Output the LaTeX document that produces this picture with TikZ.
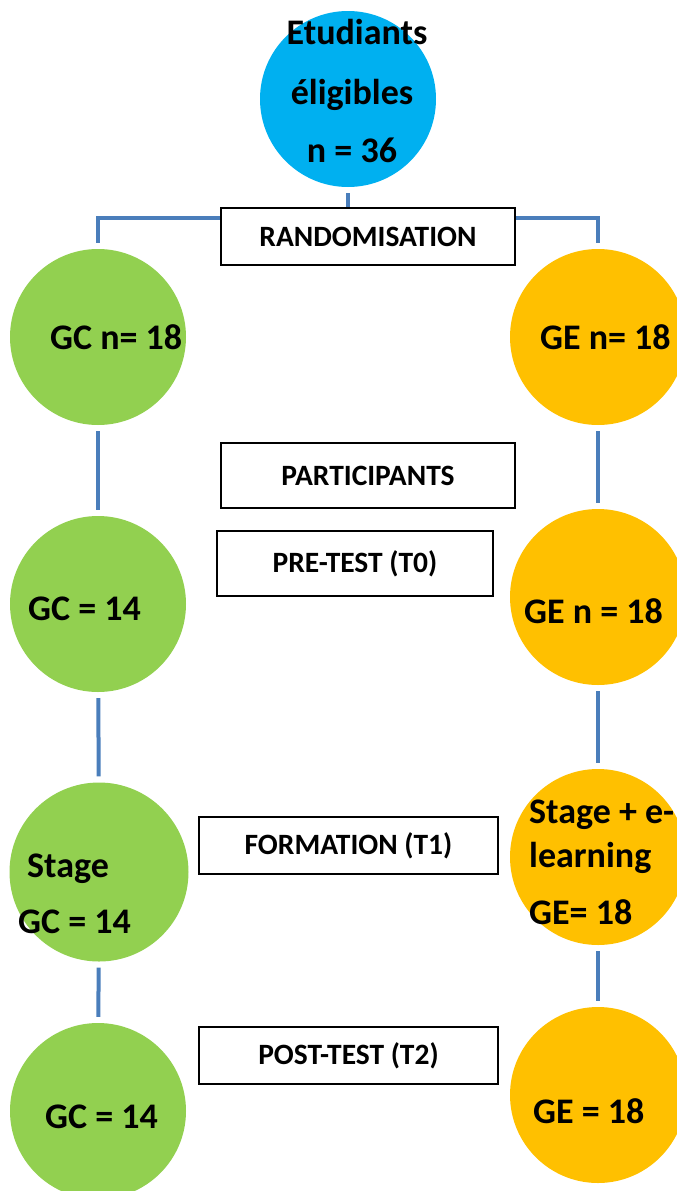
\documentclass[tikz,border=0pt]{standalone}
\usepackage{fontspec}
\setmainfont{Carlito}
\usetikzlibrary{positioning,backgrounds}
\definecolor{etblue}{HTML}{00B0F0}
\definecolor{etgreen}{HTML}{92D050}
\definecolor{etorange}{HTML}{FFC000}
\definecolor{etline}{HTML}{4A7EBB}
\tikzset{
  grp/.style={circle, minimum size=176pt, inner sep=0pt},
  gc/.style={grp, fill=etgreen},
  ge/.style={grp, fill=etorange},
  stp/.style={draw=black, line width=1.8pt, fill=white, minimum height=57pt, inner sep=0pt, font=\fontsize{29.5}{33}\selectfont\bfseries},
  lbl/.style={anchor=base west, inner sep=0pt, font=\fontsize{36}{40}\selectfont\bfseries},
  lblc/.style={lbl, anchor=base},
  conn/.style={draw=etline, line width=4pt, shorten <=6pt, shorten >=6pt},
}
\begin{document}
\begin{tikzpicture}[x=1pt, y=-1pt]
  \useasboundingbox (0,0) rectangle (677,1191);
  % groups
  \node[grp, fill=etblue] (etud) at (348,99) {};
  \node[gc] (gc1) at (98,337) {};
  \node[ge] (ge1) at (598,337) {};
  \node[gc] (gc2) at (98,604) {};
  \node[ge] (ge2) at (598,597) {};
  \node[gc, minimum size=179pt] (gc3) at (99,872) {};
  \node[ge] (ge3) at (598,857) {};
  \node[gc] (gc4) at (98,1111) {};
  \node[ge] (ge4) at (598,1095) {};
  % steps
  \node[stp, minimum width=294pt] (rando) at (368,236.5) {RANDOMISATION};
  \node[stp, minimum width=294pt, minimum height=65pt] (part) at (368,475.5) {PARTICIPANTS};
  \node[stp, minimum width=276pt, minimum height=65pt] (pre) at (355,563.5) {PRE-TEST (T0)};
  \node[stp, minimum width=299pt] (form) at (348.5,845.5) {FORMATION (T1)};
  \node[stp, minimum width=299pt] (post) at (348.5,1055.5) {POST-TEST (T2)};
  % texts
  \node[lblc] (etud-a) at (357,44) {Etudiants};
  \node[lblc] (etud-b) at (352,104) {éligibles};
  \node[lblc] (etud-c) at (352,162) {n = 36};
  \node[lbl] (gc1-t) at (50,349) {GC n= 18};
  \node[lbl] (ge1-t) at (540,349) {GE n= 18};
  \node[lbl] (gc2-t) at (28,620) {GC = 14};
  \node[lbl] (ge2-t) at (524,623) {GE n = 18};
  \node[lbl] (gc3-a) at (27,877) {Stage};
  \node[lbl] (gc3-b) at (18,933) {GC = 14};
  \node[lbl] (ge3-a) at (529,823) {Stage + e-};
  \node[lbl] (ge3-b) at (529,867) {learning};
  \node[lbl] (ge3-c) at (529,924) {GE= 18};
  \node[lbl] (gc4-t) at (45,1128) {GC = 14};
  \node[lbl] (ge4-t) at (533,1123) {GE = 18};
  % links
  \begin{scope}[on background layer]
    \coordinate (split) at (348,218);
    \draw[conn, shorten >=0pt] (etud.south) -- (etud.south |- rando.north);
    \draw[conn] (gc1.north) |- (split) -| (ge1.north);
    \draw[conn] (gc1) -- (gc2);
    \draw[conn] (gc2) -- (gc3);
    \draw[conn] (gc3) -- (gc4);
    \draw[conn] (ge1) -- (ge2);
    \draw[conn] (ge2) -- (ge3);
    \draw[conn] (ge3) -- (ge4);
  \end{scope}
\end{tikzpicture}
\end{document}
